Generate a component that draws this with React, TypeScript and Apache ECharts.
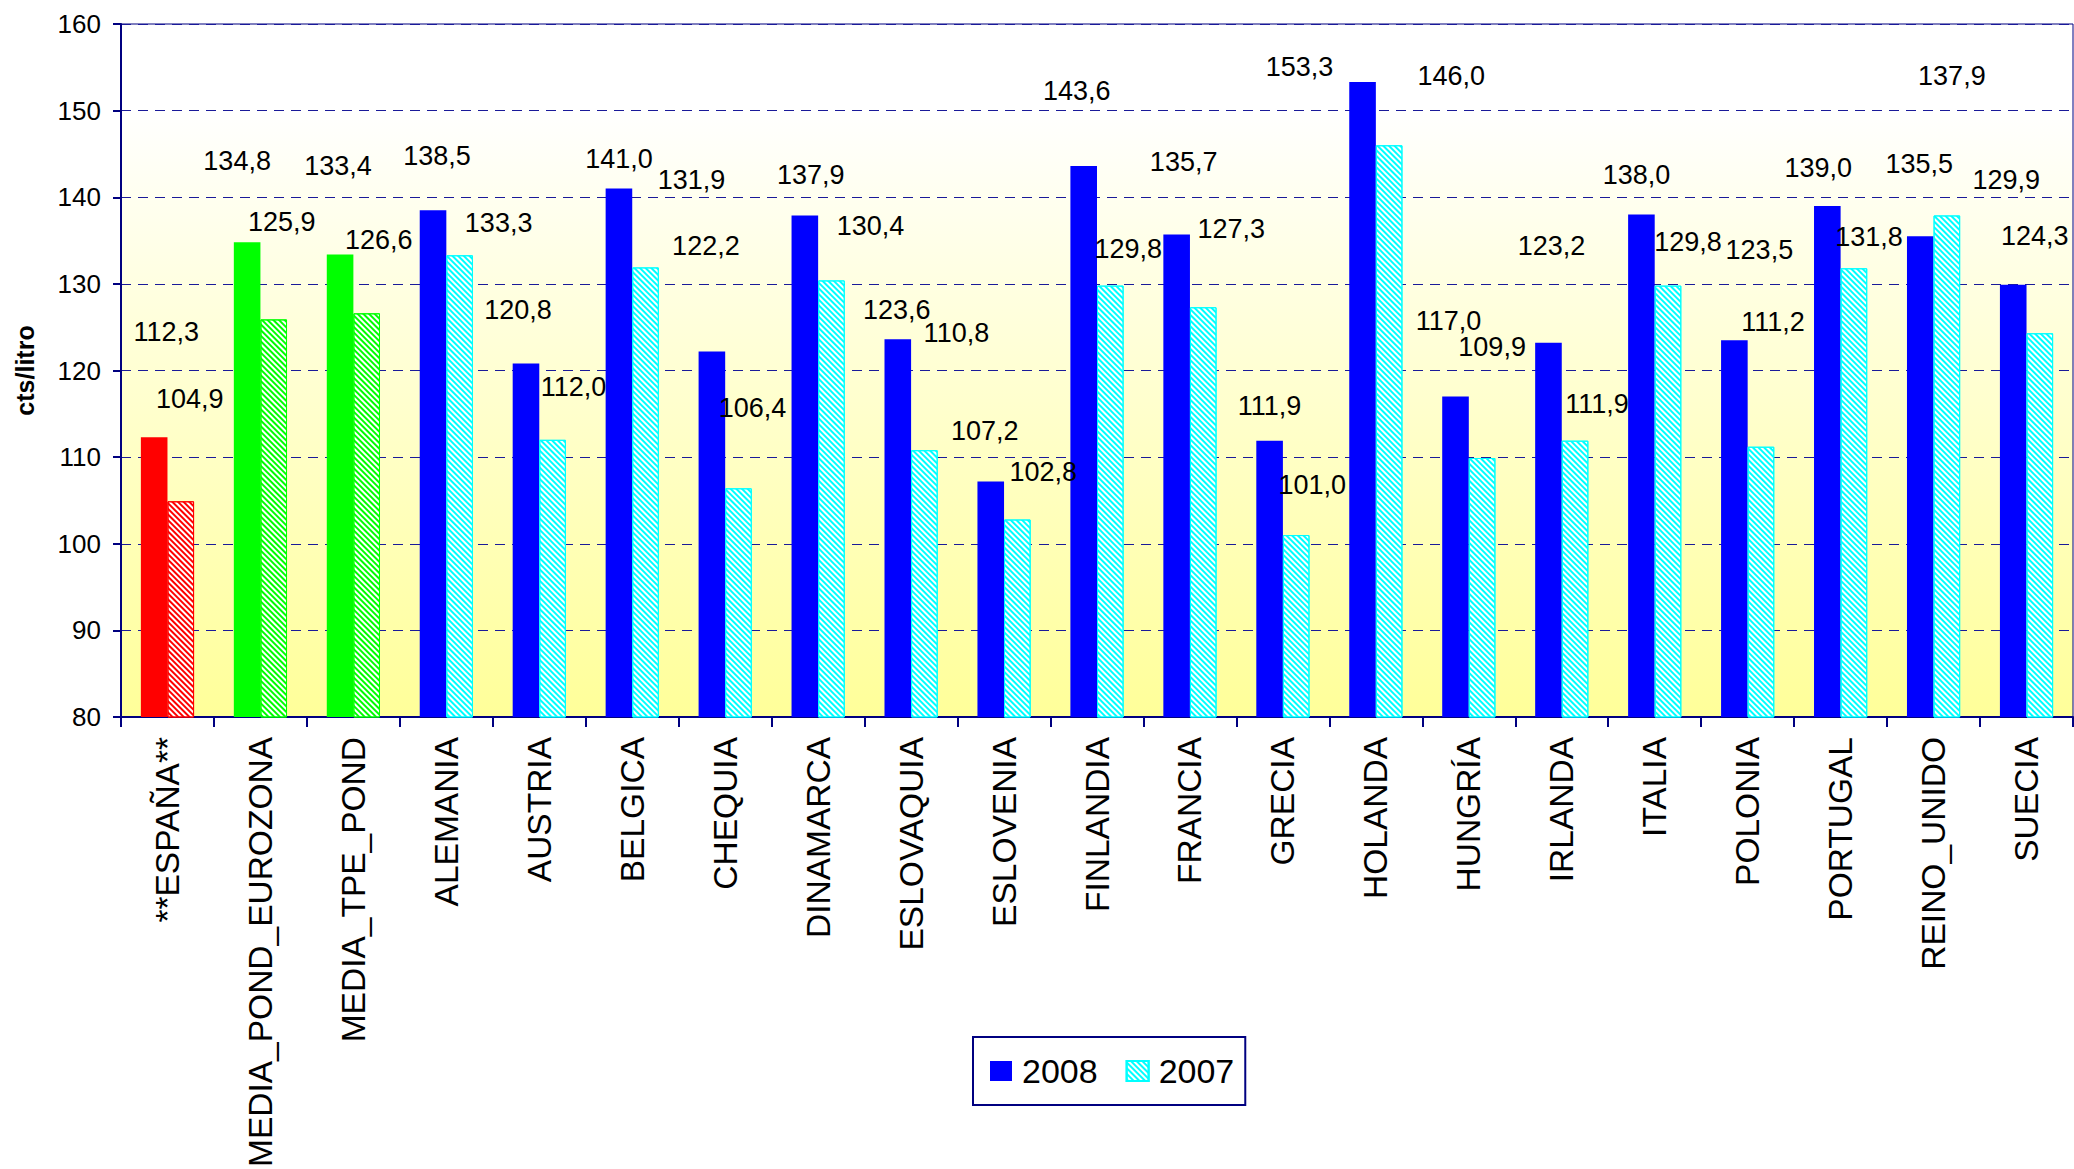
import React, { useEffect, useRef } from 'react';
import * as echarts from 'echarts';

const categories = [
  '**ESPAÑA**', 'MEDIA_POND_EUROZONA', 'MEDIA_TPE_POND', 'ALEMANIA', 'AUSTRIA', 'BELGICA', 'CHEQUIA',
  'DINAMARCA', 'ESLOVAQUIA', 'ESLOVENIA', 'FINLANDIA', 'FRANCIA', 'GRECIA', 'HOLANDA', 'HUNGRÍA',
  'IRLANDA', 'ITALIA', 'POLONIA', 'PORTUGAL', 'REINO_UNIDO', 'SUECIA',
];
const values2008 = [112.3, 134.8, 133.4, 138.5, 120.8, 141.0, 122.2, 137.9, 123.6, 107.2, 143.6, 135.7, 111.9, 153.3, 117.0, 123.2, 138.0, 123.5, 139.0, 135.5, 129.9];
const values2007 = [104.9, 125.9, 126.6, 133.3, 112.0, 131.9, 106.4, 130.4, 110.8, 102.8, 129.8, 127.3, 101.0, 146.0, 109.9, 111.9, 129.8, 111.2, 131.8, 137.9, 124.3];
const seriesNames = ['2008', '2007'];
const yAxisName = 'cts/litro';
const yMin = 80;
const yMax = 160;
const yStep = 10;

// label placement (pixel shifts from the default "top" position), as in the original chart
const labelShift2008 = [[12, -92], [-10, -68], [-2, -75], [4, -41], [-8, -41], [0, -17], [-6, -92], [6, -27], [-1, -16], [-6, -37], [-7, -62], [7, -59], [0, -22], [-63, -2], [-7, -62], [3, -84], [-5, -27], [25, -77], [-9, -25], [-1, -59], [-7, -92]];
const labelShift2007 = [[9, -89], [8, -84], [12, -60], [39, -19], [21, -40], [46, -74], [14, -67], [39, -41], [32, -104], [26, -34], [18, -24], [28, -65], [16, -37], [62, -56], [10, -98], [22, -24], [20, -31], [12, -112], [15, -18], [5, -126], [-5, -84]];

const FONT = '"Liberation Sans", Arial, sans-serif';
const NAVY = '#000080';

const solidColor = (i: number) => (i === 0 ? '#FF0000' : i < 3 ? '#00FF00' : '#0000FF');
const hatchColor = (i: number) => (i === 0 ? '#FF0000' : i < 3 ? '#00FF00' : '#00FFFF');
const hatch = (c: string) => ({
  symbol: 'rect',
  symbolSize: 1,
  color: c,
  backgroundColor: '#FFFFFF',
  dashArrayX: [1, 0],
  dashArrayY: [2, 2],
  rotation: Math.PI / 4,
});
const fmt = (v: number) => v.toFixed(1).replace('.', ',');

const labelBase = {
  show: true,
  position: 'top',
  distance: 0,
  fontSize: 27,
  lineHeight: 26,
  color: '#000000',
  fontFamily: FONT,
  formatter: (p: any) => fmt(p.value),
};

export default function App() {
  const ref = useRef<HTMLDivElement>(null);
  useEffect(() => {
    document.body.style.margin = '0';
    if (!ref.current) return;
    const chart = echarts.init(ref.current, null, { renderer: 'svg' });
    const data2008 = values2008.map((v, i) => ({
      value: v,
      itemStyle: { color: solidColor(i) },
      label: { offset: labelShift2008[i] },
    }));
    const data2007 = values2007.map((v, i) => ({
      value: v,
      itemStyle: { color: '#FFFFFF', borderColor: hatchColor(i), borderWidth: 1, decal: hatch(hatchColor(i)) },
      label: { offset: labelShift2007[i] },
    }));
    chart.setOption({
      animation: false,
      backgroundColor: '#FFFFFF',
      textStyle: { fontFamily: FONT },
      grid: {
        left: 121,
        top: 24,
        right: 1,
        bottom: 452,
        containLabel: false,
        outerBoundsMode: 'none',
        show: true,
        borderColor: NAVY,
        borderWidth: 1,
        backgroundColor: {
          type: 'linear', x: 0, y: 0, x2: 0, y2: 1,
          colorStops: [
            { offset: 0, color: '#FFFFFF' },
            { offset: 0.12, color: '#FFFFFF' },
            { offset: 1, color: '#FFFF99' },
          ],
        },
      },
      legend: {
        left: 973,
        top: 1037,
        orient: 'horizontal',
        data: seriesNames,
        icon: 'rect',
        itemWidth: 22,
        itemHeight: 20,
        itemGap: 28,
        padding: [17, 11, 17, 17],
        borderColor: NAVY,
        borderWidth: 2,
        backgroundColor: '#FFFFFF',
        textStyle: { fontSize: 34, color: '#000000', fontFamily: FONT, padding: [0, 0, 0, 5] },
      },
      xAxis: {
        type: 'category',
        data: categories,
        axisLine: { lineStyle: { color: NAVY, width: 2 } },
        axisTick: { show: true, length: 10, lineStyle: { color: NAVY, width: 2 } },
        axisLabel: { rotate: 90, interval: 0, fontSize: 33.5, color: '#000000', margin: 20, fontFamily: FONT },
        splitLine: { show: false },
      },
      yAxis: {
        type: 'value',
        min: yMin,
        max: yMax,
        interval: yStep,
        name: yAxisName,
        nameLocation: 'middle',
        nameGap: 84,
        nameTextStyle: { fontSize: 25, fontWeight: 'bold', color: '#000000', fontFamily: FONT },
        axisLine: { show: true, lineStyle: { color: NAVY, width: 2 } },
        axisTick: { show: true, length: 8, lineStyle: { color: NAVY, width: 2 } },
        axisLabel: { fontSize: 26, color: '#000000', margin: 20, fontFamily: FONT },
        splitLine: { show: true, lineStyle: { color: '#1a1a99', width: 1, type: [10, 7] } },
      },
      series: [
        {
          name: seriesNames[0],
          type: 'bar',
          barWidth: 26.6,
          barGap: '0%',
          itemStyle: { color: '#0000FF' },
          label: labelBase,
          data: data2008,
        },
        {
          name: seriesNames[1],
          type: 'bar',
          barWidth: 26.6,
          barGap: '0%',
          itemStyle: { color: '#FFFFFF', borderColor: '#00FFFF', borderWidth: 1, decal: hatch('#00FFFF') },
          label: labelBase,
          data: data2007,
        },
      ],
    });
    return () => chart.dispose();
  }, []);
  return <div ref={ref} style={{ width: 2074, height: 1169 }} />;
}
